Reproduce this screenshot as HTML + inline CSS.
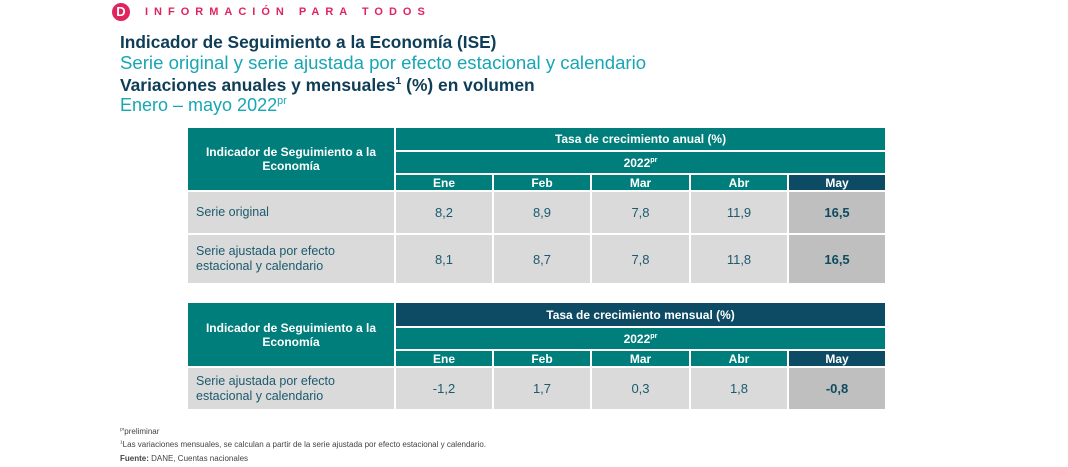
<!DOCTYPE html>
<html><head><meta charset="utf-8"><style>
body{margin:0;width:1068px;height:467px;background:#fff;font-family:"Liberation Sans",sans-serif;position:relative;overflow:hidden}
.a{position:absolute;white-space:nowrap}
.logo{left:112px;top:3px;width:18px;height:18px;border-radius:50%;background:#e0245e;color:#fff;font-weight:bold;font-size:13px;text-align:center;line-height:18px}
.brand{left:145px;top:6px;color:#e0245e;font-size:11px;font-weight:bold;letter-spacing:6px}
.t1{left:120px;top:32px;color:#0e3d57;font-size:17.3px;font-weight:bold}
.t2{left:120px;top:52px;color:#17a6b5;font-size:18.6px}
.t3{left:120px;top:75px;color:#0e3d57;font-size:17.4px;font-weight:bold}
.t4{left:120px;top:95px;color:#17a6b5;font-size:18px}
sup{font-size:60%}
table{position:absolute;left:186px;border-collapse:collapse;table-layout:fixed;font-size:12px}
td{border:2px solid #fff;text-align:center;padding:0}
.h{background:#007e7c;color:#fff;font-weight:bold}
.n{background:#0d4a63;color:#fff;font-weight:bold}
.g{background:#dadada;color:#1c5a6e;font-size:13px}
.gl{background:#dadada;color:#1c5a6e;text-align:left;padding-left:8px;font-size:12.5px;line-height:15px}
.m{background:#bfbfbf;color:#0e4a60;font-weight:bold;font-size:13px}
.f{left:120px;font-size:8px;color:#444}
</style></head><body>
<div class="a logo">D</div>
<div class="a brand">INFORMACIÓN PARA TODOS</div>
<div class="a t1">Indicador de Seguimiento a la Economía (ISE)</div>
<div class="a t2">Serie original y serie ajustada por efecto estacional y calendario</div>
<div class="a t3">Variaciones anuales y mensuales<sup>1</sup> (%) en volumen</div>
<div class="a t4">Enero – mayo 2022<sup>pr</sup></div>

<table style="top:126px;width:701px">
<colgroup><col style="width:208px"><col style="width:98px"><col style="width:98px"><col style="width:99px"><col style="width:98px"><col style="width:98px"></colgroup>
<tr style="height:24px"><td class="h" rowspan="3">Indicador de Seguimiento a la<br>Economía</td><td class="h" colspan="5">Tasa de crecimiento anual (%)</td></tr>
<tr style="height:23px"><td class="h" colspan="5">2022<sup>pr</sup></td></tr>
<tr style="height:17px"><td class="h">Ene</td><td class="h">Feb</td><td class="h">Mar</td><td class="h">Abr</td><td class="n">May</td></tr>
<tr style="height:43px"><td class="gl">Serie original</td><td class="g">8,2</td><td class="g">8,9</td><td class="g">7,8</td><td class="g">11,9</td><td class="m">16,5</td></tr>
<tr style="height:50px"><td class="gl">Serie ajustada por efecto<br>estacional y calendario</td><td class="g">8,1</td><td class="g">8,7</td><td class="g">7,8</td><td class="g">11,8</td><td class="m">16,5</td></tr>
</table>

<table style="top:301px;width:701px">
<colgroup><col style="width:208px"><col style="width:98px"><col style="width:98px"><col style="width:99px"><col style="width:98px"><col style="width:98px"></colgroup>
<tr style="height:25px"><td class="h" rowspan="3">Indicador de Seguimiento a la<br>Economía</td><td class="n" colspan="5">Tasa de crecimiento mensual (%)</td></tr>
<tr style="height:23px"><td class="h" colspan="5">2022<sup>pr</sup></td></tr>
<tr style="height:17px"><td class="h">Ene</td><td class="h">Feb</td><td class="h">Mar</td><td class="h">Abr</td><td class="n">May</td></tr>
<tr style="height:43px"><td class="gl">Serie ajustada por efecto<br>estacional y calendario</td><td class="g">-1,2</td><td class="g">1,7</td><td class="g">0,3</td><td class="g">1,8</td><td class="m">-0,8</td></tr>
</table>

<div class="a f" style="top:427px"><sup>pr</sup>preliminar</div>
<div class="a f" style="top:440px"><sup>1</sup>Las variaciones mensuales, se calculan a partir de la serie ajustada por efecto estacional y calendario.</div>
<div class="a f" style="top:454px"><b>Fuente:</b> DANE, Cuentas nacionales</div>
</body></html>
